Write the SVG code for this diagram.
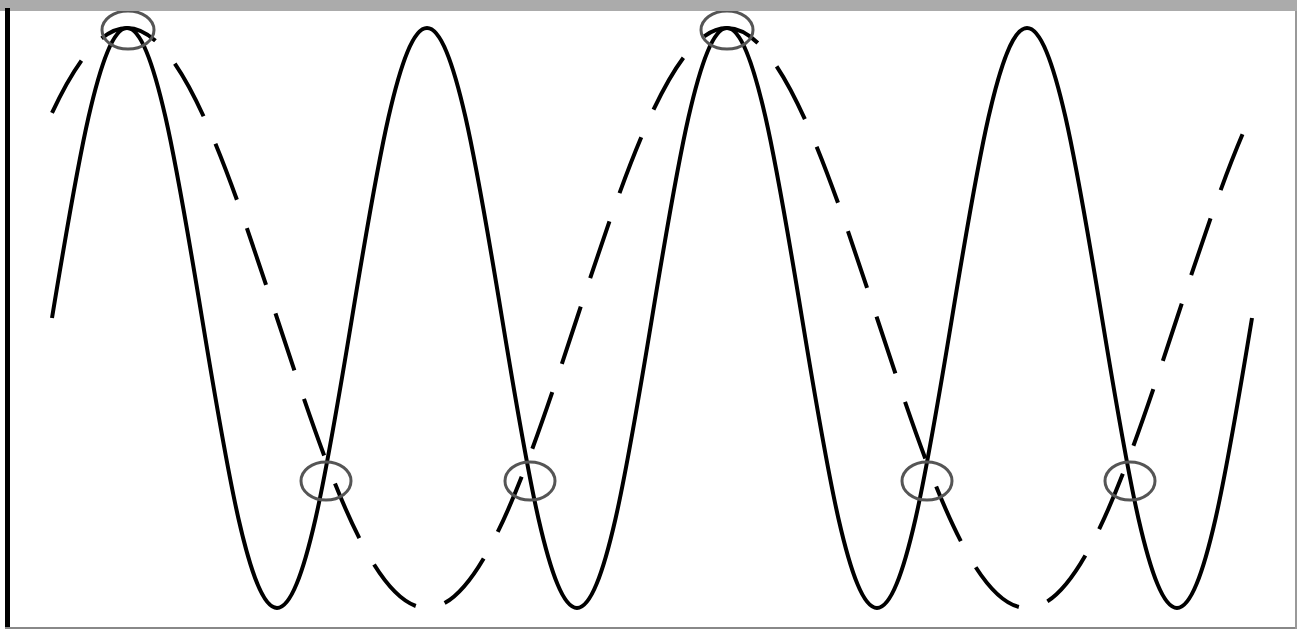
<svg xmlns="http://www.w3.org/2000/svg" width="1297" height="629" viewBox="0 0 1297 629">
<style>
.curve{fill:none;stroke:#000;stroke-width:4;stroke-linejoin:round}
.dash{stroke-dasharray:60 30}
.mark{fill:none;stroke:#555;stroke-width:3}
</style>
<rect x="0" y="0" width="1297" height="629" fill="#fff"/>
<g id="curves">
<path class="curve" d="M52,318 c24.46,-148.6 47.86,-290 75,-290
 s50.54,141.4 75,290 s47.86,290 75,290 s50.54,-141.4 75,-290 s47.86,-290 75,-290
 s50.54,141.4 75,290 s47.86,290 75,290 s50.54,-141.4 75,-290 s47.86,-290 75,-290
 s50.54,141.4 75,290 s47.86,290 75,290 s50.54,-141.4 75,-290 s47.86,-290 75,-290
 s50.54,141.4 75,290 s47.86,290 75,290 s50.54,-141.4 75,-290"/>
<path class="curve dash" d="M52,112.9 C77,59.2 102,28 127,28
 c54.29,0 101.08,141.4 150,290 s95.71,290 150,290 s101.08,-141.4 150,-290 s95.71,-290 150,-290
 s101.08,141.4 150,290 s95.71,290 150,290 s101.08,-141.4 150,-290
 C1202,242.1 1227,166.6 1252,112.9"/>
</g>
<g id="markers">
<ellipse class="mark" cx="128" cy="30" rx="26" ry="19"/>
<ellipse class="mark" cx="727" cy="30" rx="26" ry="19"/>
<ellipse class="mark" cx="326" cy="481" rx="25" ry="19"/>
<ellipse class="mark" cx="530" cy="481" rx="25" ry="19"/>
<ellipse class="mark" cx="927" cy="481" rx="25" ry="19"/>
<ellipse class="mark" cx="1130" cy="481" rx="25" ry="19"/>
</g>
<g id="frame">
<rect x="0" y="0" width="1297" height="11" fill="#ababab"/>
<rect x="5" y="8" width="5" height="621" fill="#000"/>
<line x1="5" y1="628" x2="1297" y2="628" stroke="#888" stroke-width="2"/>
<line x1="1296" y1="11" x2="1296" y2="629" stroke="#999" stroke-width="2"/>
</g>
</svg>
